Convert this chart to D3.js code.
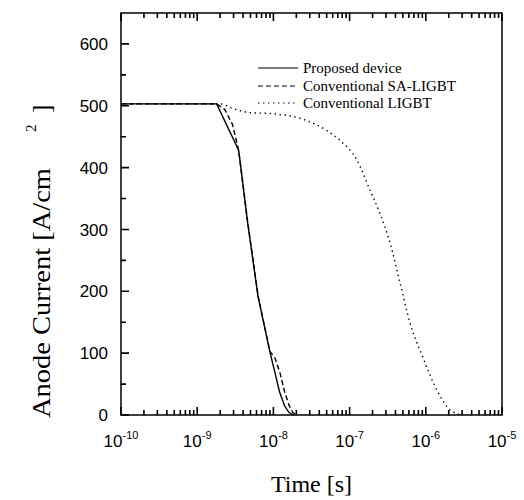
<!DOCTYPE html>
<html>
<head>
<meta charset="utf-8">
<script src="https://cdn.jsdelivr.net/npm/d3@7"></script>
<style>
  body { margin: 0; background: #fff; }
  svg { display: block; }
</style>
</head>
<body>
<div id="chart"></div>
<script>
// Data (time in s, anode current in A/cm2)
var timeProposed = [1e-10, 1.8e-9, 3.5e-9, 4.6e-9, 6.3e-9, 9.0e-9, 1.05e-8, 1.2e-8, 1.4e-8, 1.6e-8, 1.85e-8];
var currentProposed = [503, 503, 428, 310, 191, 102, 68, 38, 15, 4, 0];

var timeSA = [1e-10, 1.8e-9, 2.3e-9, 2.9e-9, 3.5e-9, 4.6e-9, 6.3e-9, 9.0e-9, 1.05e-8, 1.22e-8, 1.4e-8, 1.6e-8, 1.8e-8, 2.0e-8];
var currentSA = [503, 503, 494, 470, 428, 312, 192, 103, 92, 68, 38, 16, 4, 0];

var timeLIGBT = [1e-10, 2.0e-9, 3.0e-9, 4.9e-9, 1e-8, 2.2e-8, 5.0e-8, 7.5e-8, 1.25e-7, 1.86e-7, 2.5e-7, 3.4e-7, 4.6e-7, 6.2e-7, 9.1e-7, 1.4e-6, 2.1e-6, 3.0e-6];
var currentLIGBT = [503, 503, 495, 489, 487, 480, 460, 444, 412, 363, 326, 278, 213, 149, 94, 40, 8, 0];

var seriesNames = ["Proposed device", "Conventional SA-LIGBT", "Conventional LIGBT"];
var xTickExps = [-10, -9, -8, -7, -6, -5];
var yTicks = [0, 100, 200, 300, 400, 500, 600];

var width = 524, height = 500;
var margin = {left: 121, right: 22, top: 13, bottom: 85};

var svg = d3.select("#chart").append("svg")
    .attr("width", width)
    .attr("height", height)
    .style("background", "#fff");

var x = d3.scaleLog().domain([1e-10, 1e-5]).range([margin.left, width - margin.right]);
var y = d3.scaleLinear().domain([0, 650]).range([height - margin.bottom, margin.top]);

var tickFont = "'Liberation Sans', Arial, sans-serif";
var serifFont = "'Liberation Serif', 'Times New Roman', serif";

// minor ticks for the log axis
var minorX = [];
xTickExps.slice(0, -1).forEach(function (e) {
    for (var k = 2; k <= 9; k++) minorX.push(k * Math.pow(10, e));
});
var majorX = xTickExps.map(function (e) { return Math.pow(10, e); });
var yMinor = d3.range(50, 650, 100);

// inward ticks drawn as one path each (bottom, top, left)
var tickPath = d3.path();
majorX.concat(minorX).forEach(function (d, i) {
    var len = i < majorX.length ? 8 : 5;
    tickPath.moveTo(x(d), y(0));
    tickPath.lineTo(x(d), y(0) - len);
    tickPath.moveTo(x(d), margin.top);
    tickPath.lineTo(x(d), margin.top + len);
});
yTicks.concat(yMinor).forEach(function (d, i) {
    var len = i < yTicks.length ? 8 : 5;
    tickPath.moveTo(margin.left, y(d));
    tickPath.lineTo(margin.left + len, y(d));
});
svg.append("path")
    .attr("d", tickPath.toString())
    .attr("fill", "none")
    .attr("stroke", "#000")
    .attr("stroke-width", 1.6);

// y tick labels
svg.append("g").selectAll("text").data(yTicks).enter().append("text")
    .attr("x", margin.left - 13)
    .attr("y", function (d) { return y(d); })
    .attr("dy", "0.36em")
    .attr("text-anchor", "end")
    .attr("font-family", tickFont)
    .attr("font-size", "17px")
    .attr("fill", "#000")
    .text(function (d) { return d; });

// frame
svg.append("rect")
    .attr("x", margin.left).attr("y", margin.top)
    .attr("width", width - margin.right - margin.left)
    .attr("height", y(0) - margin.top)
    .attr("fill", "none").attr("stroke", "#000").attr("stroke-width", 1.5);

// x tick labels with superscript exponents
var xLabels = svg.append("g");
xTickExps.forEach(function (e) {
    var t = xLabels.append("text")
        .attr("x", x(Math.pow(10, e)))
        .attr("y", y(0) + 32)
        .attr("text-anchor", "middle")
        .attr("font-family", tickFont)
        .attr("font-size", "17px")
        .attr("fill", "#000");
    t.append("tspan").text("10");
    t.append("tspan").attr("dy", -8).attr("font-size", "11px").text(String(e));
});

// curves
var line = d3.line()
    .x(function (d) { return x(d[0]); })
    .y(function (d) { return y(d[1]); });

var series = [
    {t: timeProposed, v: currentProposed, dash: null, curve: d3.curveLinear},
    {t: timeSA, v: currentSA, dash: "5,3", curve: d3.curveLinear},
    {t: timeLIGBT, v: currentLIGBT, dash: "1.4,3.6", curve: d3.curveMonotoneX}
];

series.forEach(function (s) {
    svg.append("path")
        .datum(d3.zip(s.t, s.v))
        .attr("d", line.curve(s.curve))
        .attr("fill", "none")
        .attr("stroke", "#000")
        .attr("stroke-width", 1.4)
        .attr("stroke-dasharray", s.dash);
});

// legend
var legend = svg.append("g");
var legendY = [68, 86, 103];
seriesNames.forEach(function (name, i) {
    legend.append("line")
        .attr("x1", 258).attr("x2", 298)
        .attr("y1", legendY[i]).attr("y2", legendY[i])
        .attr("stroke", "#000").attr("stroke-width", 1.2)
        .attr("stroke-dasharray", series[i].dash);
    legend.append("text")
        .attr("x", 303).attr("y", legendY[i] + 5)
        .attr("font-family", serifFont)
        .attr("font-size", "15px")
        .attr("fill", "#000")
        .text(name);
});

// axis titles
svg.append("text")
    .attr("x", x(Math.sqrt(1e-10 * 1e-5)))
    .attr("y", 492)
    .attr("text-anchor", "middle")
    .attr("font-family", serifFont)
    .attr("font-size", "24px")
    .attr("fill", "#000")
    .text("Time [s]");

var yTitle = svg.append("g").attr("transform", "translate(50,418) rotate(-90)");
yTitle.append("text")
    .attr("x", 0).attr("y", 0)
    .attr("font-family", serifFont)
    .attr("font-size", "25px")
    .attr("textLength", 250)
    .attr("lengthAdjust", "spacingAndGlyphs")
    .attr("fill", "#000")
    .text("Anode Current [A/cm");
yTitle.append("text")
    .attr("x", 286).attr("y", -14)
    .attr("font-family", serifFont)
    .attr("font-size", "15px")
    .attr("fill", "#000")
    .text("2");
yTitle.append("text")
    .attr("x", 305).attr("y", 0)
    .attr("font-family", serifFont)
    .attr("font-size", "25px")
    .attr("fill", "#000")
    .text("]");
</script>
</body>
</html>
